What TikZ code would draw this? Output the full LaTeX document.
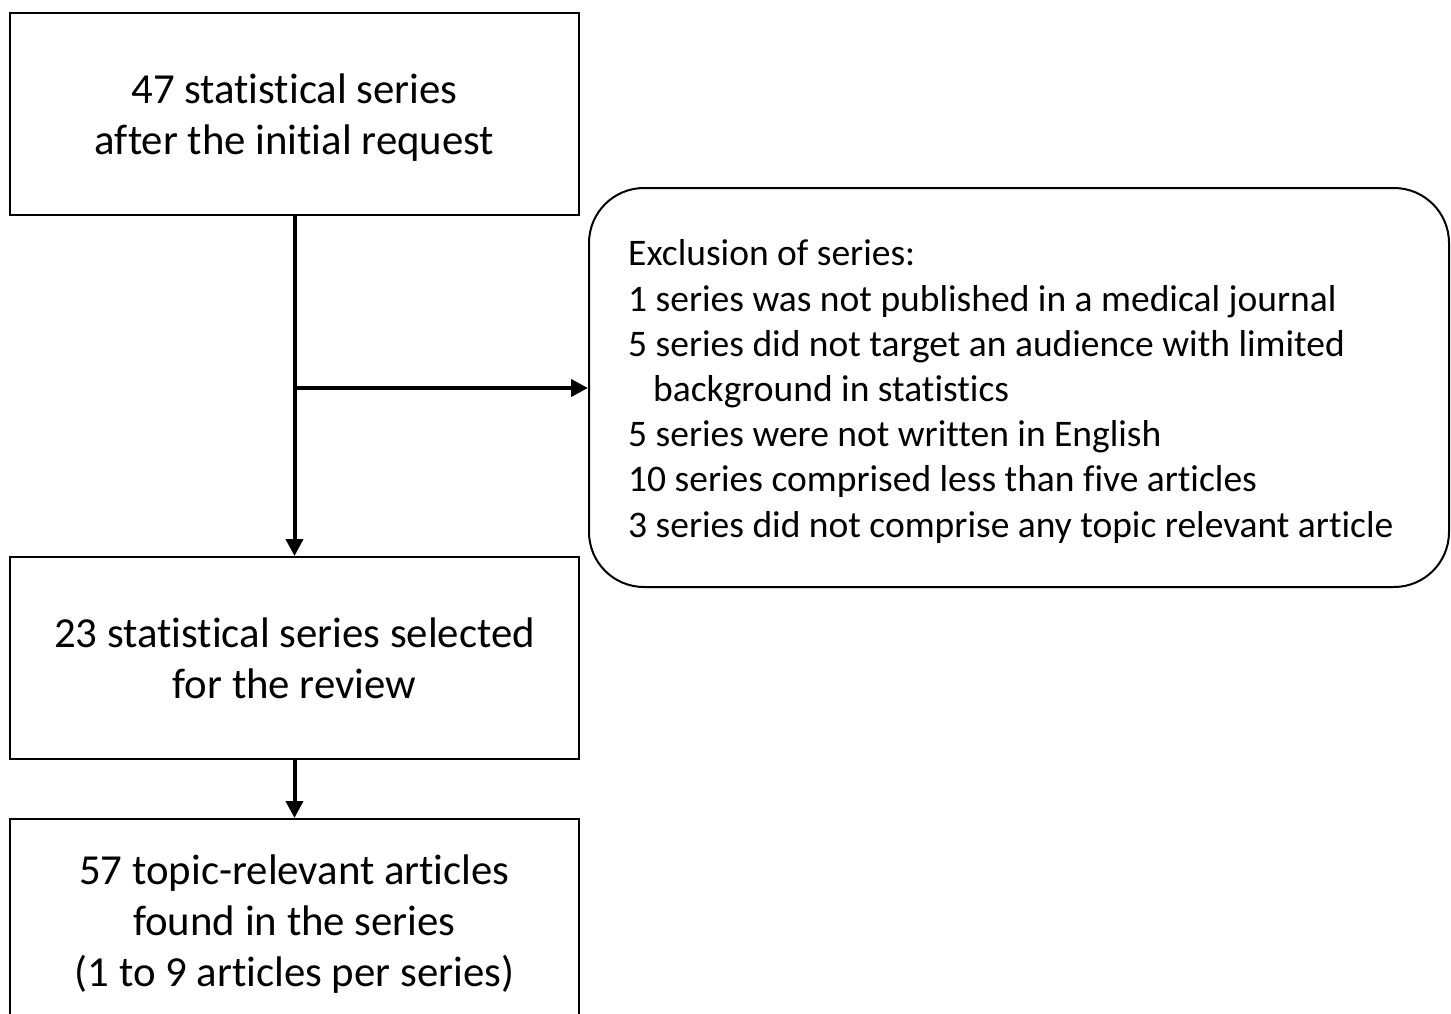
\documentclass[tikz,border=0pt]{standalone}
\usepackage{fontspec}
\setmainfont{Carlito}[RawFeature={-liga}]
\usetikzlibrary{arrows.meta,calc}
\begin{document}
\begin{tikzpicture}[x=1pt,y=-1pt,
  box/.style={draw=black,line width=2pt,minimum width=569pt,minimum height=202pt,inner sep=0pt},
  boxtxt/.style={inner sep=0pt,align=center,font=\fontsize{42.8}{51}\selectfont},
  exclbox/.style={draw=black,line width=2pt,rounded corners=55pt,minimum width=860pt,minimum height=399pt,inner sep=0pt},
  excltxt/.style={align=left,inner sep=0pt,font=\fontsize{37.5}{45.2}\selectfont},
  arr/.style={line width=4pt,-{Triangle[length=17pt,width=17pt]}}]
\useasboundingbox (0,0) rectangle (1451,1013);
\begin{scope}
\clip (0,0) rectangle (1451,1013);
\node[box] (b1) at (294.5,114) {};
\node[boxtxt] (b1t) at (294.5,118) {47 statistical series\\after the initial request};
\node[box] (b2) at (294.5,658) {};
\node[boxtxt] (b2t) at (294.5,658) {23 statistical series selected\\for the review};
\node[box,minimum height=204pt] (b3) at (294.5,921) {};
\node[boxtxt] (b3t) at (294.5,924) {57 topic-relevant articles\\found in the series\\(1 to 9 articles per series)};
\node[exclbox] (excl) at (1019,387.5) {};
\node[excltxt,anchor=west] (et) at (628,391.5) {Exclusion of series:\\1 series was not published in a medical journal\\5 series did not target an audience with limited\\\hspace*{25pt}background in statistics\\5 series were not written in English\\10 series comprised less than five articles\\3 series did not comprise any topic relevant article};
\end{scope}
\coordinate (br) at (295,388);
\draw[arr] (b1.south) -- (b2.north);
\draw[arr] (br) -- (br -| excl.west);
\draw[arr] (b2.south) -- (b3.north);
\end{tikzpicture}
\end{document}
